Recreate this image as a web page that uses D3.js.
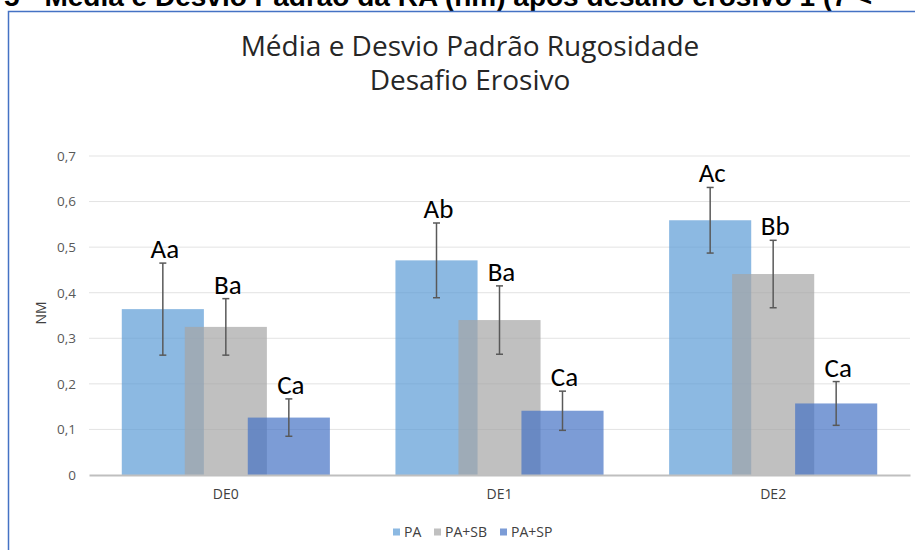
<!DOCTYPE html>
<html>
<head>
<meta charset="utf-8">
<script src="https://cdn.jsdelivr.net/npm/d3@7"></script>
<style>
  html, body { margin: 0; padding: 0; background: #fff; }
  svg { display: block; }
</style>
</head>
<body>
<svg id="chart" width="915" height="550"></svg>
<script>
// Roughness (NM) by erosive challenge stage
const categories = ["DE0", "DE1", "DE2"];
const seriesNames = ["PA", "PA+SB", "PA+SP"];
const meanPA   = [0.364, 0.471, 0.559];
const meanPASB = [0.325, 0.340, 0.441];
const meanPASP = [0.126, 0.141, 0.157];
const sdPA     = [0.101, 0.082, 0.072];
const sdPASB   = [0.062, 0.075, 0.074];
const sdPASP   = [0.041, 0.043, 0.048];
const labelsPA   = ["Aa", "Ab", "Ac"];
const labelsPASB = ["Ba", "Ba", "Bb"];
const labelsPASP = ["Ca", "Ca", "Ca"];
const yTicks = [0, 0.1, 0.2, 0.3, 0.4, 0.5, 0.6, 0.7];

const seriesColors = ["#5B9BD5", "#A5A5A5", "#4472C4"];
const means  = [meanPA, meanPASB, meanPASP];
const sds    = [sdPA, sdPASB, sdPASP];
const labels = [labelsPA, labelsPASB, labelsPASP];

const rows = [];
categories.forEach((c, ci) => {
  seriesNames.forEach((s, si) => {
    rows.push({ cat: c, series: s, si, value: means[si][ci], sd: sds[si][ci], label: labels[si][ci] });
  });
});

const svg = d3.select("#chart");
const font = "Carlito, Calibri, Lato, 'Open Sans', sans-serif";
const smallFont = "'Open Sans', Lato, sans-serif";

// Caption line above the chart frame
svg.append("text")
  .attr("x", 4).attr("y", 6)
  .attr("font-family", "'Liberation Sans', Arial, sans-serif")
  .attr("font-weight", "bold")
  .attr("font-size", 28)
  .attr("fill", "#000")
  .text("5 - Média e Desvio Padrão da RA (nm) após desafio erosivo 1 (7 <");

// Chart frame
svg.append("rect")
  .attr("x", 8.5).attr("y", 11.5)
  .attr("width", 930).attr("height", 560)
  .attr("fill", "#fff")
  .attr("stroke", "#4472C4")
  .attr("stroke-width", 1.5);

// Title
const title = svg.append("text")
  .attr("text-anchor", "middle")
  .attr("font-family", smallFont)
  .attr("font-size", 28)
  .attr("fill", "#262626");
title.append("tspan").attr("x", 470).attr("y", 56).text("Média e Desvio Padrão Rugosidade");
title.append("tspan").attr("x", 470).attr("y", 90).text("Desafio Erosivo");

const x = d3.scaleBand().domain(categories).range([89, 910]).padding(0);
const offset = d3.scalePoint().domain(seriesNames).range([-63, 63]);
const barW = x.bandwidth() * 0.3;
const y = d3.scaleLinear().domain([0, 0.7]).range([475, 156]);

// Gridlines
svg.append("g")
  .selectAll("line")
  .data(yTicks.filter(t => t > 0))
  .join("line")
  .attr("x1", 89).attr("x2", 910)
  .attr("y1", d => y(d)).attr("y2", d => y(d))
  .attr("stroke", "#E3E3E3")
  .attr("stroke-width", 1);

// Y axis tick labels
const yAxis = svg.append("g")
  .attr("transform", "translate(76,0)")
  .call(d3.axisLeft(y).tickValues(yTicks).tickSize(0).tickPadding(0)
    .tickFormat(d => d === 0 ? "0" : d3.format(".1f")(d).replace(".", ",")));
yAxis.select(".domain").remove();
yAxis.selectAll("text")
  .attr("font-family", smallFont)
  .attr("font-size", 13.5)
  .attr("fill", "#595959");

// Y axis title
svg.append("text")
  .attr("transform", "translate(46,313) rotate(-90)")
  .attr("text-anchor", "middle")
  .attr("font-family", smallFont)
  .attr("font-size", 14)
  .attr("fill", "#404040")
  .text("NM");

// Bars
svg.append("g")
  .selectAll("rect")
  .data(rows)
  .join("rect")
  .attr("x", d => x(d.cat) + x.bandwidth() / 2 + offset(d.series) - barW / 2)
  .attr("y", d => y(d.value))
  .attr("width", barW)
  .attr("height", d => y(0) - y(d.value))
  .attr("fill", d => seriesColors[d.si])
  .attr("fill-opacity", 0.7);

// Category axis
const xAxis = svg.append("g")
  .attr("transform", "translate(0,475)")
  .call(d3.axisBottom(x).tickSize(0).tickPadding(14));
xAxis.select(".domain")
  .attr("stroke", "#BFBFBF")
  .attr("stroke-width", 2);
xAxis.selectAll("text")
  .attr("font-family", smallFont)
  .attr("font-size", 14)
  .attr("fill", "#404040");

// Error bars
const err = svg.append("g")
  .attr("stroke", "#595959")
  .attr("stroke-width", 1.5)
  .selectAll("g")
  .data(rows)
  .join("g")
  .attr("transform", d => `translate(${x(d.cat) + x.bandwidth() / 2 + offset(d.series)},0)`);
err.append("line")
  .attr("y1", d => y(d.value + d.sd)).attr("y2", d => y(d.value - d.sd));
err.append("line")
  .attr("x1", -3.5).attr("x2", 3.5)
  .attr("y1", d => y(d.value + d.sd)).attr("y2", d => y(d.value + d.sd));
err.append("line")
  .attr("x1", -3.5).attr("x2", 3.5)
  .attr("y1", d => y(d.value - d.sd)).attr("y2", d => y(d.value - d.sd));

// Significance letters
svg.append("g")
  .selectAll("text")
  .data(rows)
  .join("text")
  .attr("x", d => x(d.cat) + x.bandwidth() / 2 + offset(d.series) + 2)
  .attr("y", d => y(d.value + d.sd) - 5)
  .attr("text-anchor", "middle")
  .attr("font-family", font)
  .attr("font-size", 27)
  .attr("fill", "#000")
  .text(d => d.label);

// Legend
const legendX = [393, 434, 500];
const legend = svg.append("g")
  .selectAll("g")
  .data(seriesNames)
  .join("g")
  .attr("transform", (d, i) => `translate(${legendX[i]},532)`);
legend.append("rect")
  .attr("x", 0).attr("y", -3.5)
  .attr("width", 7).attr("height", 7)
  .attr("fill", (d, i) => seriesColors[i])
  .attr("fill-opacity", 0.7);
legend.append("text")
  .attr("x", 11).attr("y", 0)
  .attr("dy", "0.35em")
  .attr("font-family", smallFont)
  .attr("font-size", 14)
  .attr("fill", "#404040")
  .text(d => d);
</script>
</body>
</html>
